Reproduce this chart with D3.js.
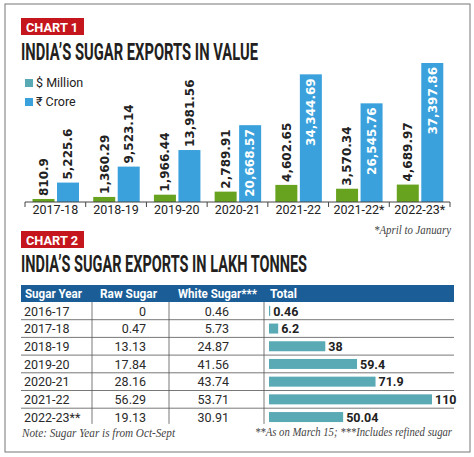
<!DOCTYPE html>
<html lang="en">
<head>
<meta charset="UTF-8">
<title>India's Sugar Exports</title>
<script src="https://d3js.org/d3.v7.min.js"></script>
<style>
    body { margin: 0; background: #fff; }
    svg { display: block; font-family: Roboto, "Liberation Sans", sans-serif; }
    .tag text { fill: #fff; font-weight: 700; font-size: 13px; }
    .title { fill: #231f20; font-weight: 700; font-size: 23px; }
    .legend text { font-size: 12.5px; fill: #222; }
    .val { font-family: "DejaVu Sans", sans-serif; font-weight: 700; font-size: 12px; }
    .xlab { font-size: 12.5px; fill: #222; }
    .note { font-family: "Liberation Serif", serif; font-style: italic; font-size: 12px; fill: #444; }
    .cell { font-size: 12.5px; fill: #2a2a2a; }
    .hdr { font-weight: 700; font-size: 12.5px; fill: #fff; }
    .tot { font-weight: 700; font-size: 12.5px; fill: #222; }
</style>
</head>
<body>
<svg id="chart" width="474" height="457"></svg>
<script>
    // Chart 1: exports in value
    const valueYears = ["2017-18", "2018-19", "2019-20", "2020-21", "2021-22", "2021-22*", "2022-23*"];
    const usdMillion = [810.9, 1360.29, 1966.44, 2789.91, 4602.65, 3570.34, 4689.97];
    const inrCrore = [5225.6, 9523.14, 13981.56, 20668.57, 34344.69, 26545.76, 37397.86];

    // Chart 2: exports in lakh tonnes
    const sugarYears = ["2016-17", "2017-18", "2018-19", "2019-20", "2020-21", "2021-22", "2022-23**"];
    const rawSugar = [0, 0.47, 13.13, 17.84, 28.16, 56.29, 19.13];
    const whiteSugar = [0.46, 5.73, 24.87, 41.56, 43.74, 53.71, 30.91];
    const totalSugar = [0.46, 6.2, 38, 59.4, 71.9, 110, 50.04];
    const tableHeads = ["Sugar Year", "Raw Sugar", "White Sugar***", "Total"];

    const GREEN = "#67a31f", BLUE = "#3aa1dc", TEAL = "#5aaab6", NAVY = "#1b5e97", RED = "#c4161c";

    const svg = d3.select("#chart");

    // outer frame
    svg.append("rect")
        .attr("x", 5).attr("y", 4).attr("width", 465).attr("height", 448)
        .attr("fill", "none").attr("stroke", "#777").attr("stroke-width", 1);

    function tag(y, label) {
        const g = svg.append("g").attr("class", "tag");
        g.append("rect").attr("x", 21).attr("y", y).attr("width", 63).attr("height", 17).attr("fill", RED);
        g.append("text").attr("x", 26).attr("y", y + 13.5).attr("textLength", 52)
            .attr("lengthAdjust", "spacingAndGlyphs").text(label);
    }

    function title(y, label, len) {
        svg.append("text").attr("class", "title")
            .attr("x", 21).attr("y", y)
            .attr("textLength", len).attr("lengthAdjust", "spacingAndGlyphs")
            .text(label);
    }

    // ---------- Chart 1 ----------
    tag(18, "CHART 1");
    title(60, "INDIA\u2019S SUGAR EXPORTS IN VALUE", 237);

    const legend = svg.append("g").attr("class", "legend");
    [["$ Million", TEAL], ["\u20b9 Crore", BLUE]].forEach((d, i) => {
        legend.append("rect").attr("x", 25).attr("y", 79 + i * 19).attr("width", 8).attr("height", 8).attr("fill", d[1]);
        legend.append("text").attr("x", 36).attr("y", 87 + i * 19).text(d[0]);
    });

    const axisY = 202;
    const x = d3.scaleBand().domain(valueYears).range([25, 450]);
    const y = d3.scaleLinear().domain([0, d3.max(inrCrore)]).range([axisY, 63]);
    const fmt = d3.format(",");

    const groups = svg.append("g").selectAll("g")
        .data(valueYears.map((yr, i) => ({ yr, usd: usdMillion[i], inr: inrCrore[i] })))
        .join("g")
        .attr("transform", d => `translate(${x(d.yr)},0)`);

    const bars = [
        { key: "usd", dx: 7.5, color: GREEN },
        { key: "inr", dx: 32, color: BLUE }
    ];
    const bw = 22;

    bars.forEach(b => {
        groups.append("rect")
            .attr("x", b.dx).attr("width", bw)
            .attr("y", d => y(d[b.key]))
            .attr("height", d => axisY - y(d[b.key]))
            .attr("fill", b.color);

        groups.append("text")
            .attr("class", "val")
            .attr("transform", d => {
                const h = axisY - y(d[b.key]);
                const ty = h > 70 ? y(d[b.key]) + 4 : y(d[b.key]) - 3;
                return `translate(${b.dx + bw / 2},${ty}) rotate(-90)`;
            })
            .attr("dy", "0.36em")
            .attr("text-anchor", d => (axisY - y(d[b.key]) > 70 ? "end" : "start"))
            .attr("fill", d => (axisY - y(d[b.key]) > 70 ? "#fff" : "#222"))
            .text(d => fmt(d[b.key]));
    });

    // x axis: baseline, boundary ticks, centred labels
    const ax = svg.append("g");
    ax.append("line").attr("x1", 25).attr("x2", 450).attr("y1", axisY).attr("y2", axisY)
        .attr("stroke", "#444").attr("stroke-width", 1);
    ax.selectAll(".tk").data(valueYears.concat(["end"]))
        .join("line")
        .attr("x1", (d, i) => 25 + i * x.bandwidth()).attr("x2", (d, i) => 25 + i * x.bandwidth())
        .attr("y1", axisY).attr("y2", axisY + 5)
        .attr("stroke", "#444");
    ax.selectAll(".xlab").data(valueYears)
        .join("text").attr("class", "xlab")
        .attr("x", d => x(d) + x.bandwidth() / 2).attr("y", 214)
        .attr("text-anchor", "middle")
        .text(d => d);

    svg.append("text").attr("class", "note")
        .attr("x", 451).attr("y", 234).attr("text-anchor", "end")
        .attr("textLength", 77).attr("lengthAdjust", "spacingAndGlyphs")
        .text("*April to January");

    // ---------- Chart 2 ----------
    tag(231, "CHART 2");
    title(272, "INDIA\u2019S SUGAR EXPORTS IN LAKH TONNES", 286);

    const tLeft = 21, tRight = 454, headTop = 285, headH = 17, rowH = 17.7;
    const colDiv = [92, 169, 264];
    const rows = d3.scaleBand().domain(sugarYears).range([headTop + headH, headTop + headH + rowH * sugarYears.length]);

    svg.append("rect").attr("x", tLeft).attr("y", headTop).attr("width", tRight - tLeft).attr("height", headH).attr("fill", NAVY);
    const headPos = [
        { x: 25, anchor: "start", len: 57 },
        { x: 100, anchor: "start", len: 57 },
        { x: 178, anchor: "start", len: 79 },
        { x: 270, anchor: "start", len: 27 }
    ];
    tableHeads.forEach((h, i) => {
        svg.append("text").attr("class", "hdr")
            .attr("x", headPos[i].x).attr("y", headTop + 13)
            .attr("textLength", headPos[i].len).attr("lengthAdjust", "spacingAndGlyphs")
            .text(h);
    });

    // row separators
    svg.append("g").selectAll("line").data(sugarYears.slice(1))
        .join("line")
        .attr("x1", tLeft).attr("x2", tRight)
        .attr("y1", d => rows(d)).attr("y2", d => rows(d))
        .attr("stroke", "#555").attr("stroke-width", 0.8);

    // column separators
    svg.append("g").selectAll("line").data(colDiv)
        .join("line")
        .attr("x1", d => d).attr("x2", d => d)
        .attr("y1", headTop + headH).attr("y2", rows.range()[1] - 2)
        .attr("stroke", "#555").attr("stroke-width", 0.8);

    const tbl = svg.append("g");
    sugarYears.forEach((yr, i) => {
        const by = rows(yr) + 13.5;
        tbl.append("text").attr("class", "cell").attr("x", 24).attr("y", by).text(yr);
        tbl.append("text").attr("class", "cell").attr("x", 146).attr("y", by).attr("text-anchor", "end").text(rawSugar[i]);
        tbl.append("text").attr("class", "cell").attr("x", 229).attr("y", by).attr("text-anchor", "end").text(whiteSugar[i]);
    });

    const tx = d3.scaleLinear().domain([0, d3.max(totalSugar)]).range([269, 432]);
    tbl.selectAll(".tbar").data(totalSugar)
        .join("rect")
        .attr("x", tx(0))
        .attr("y", (d, i) => rows(sugarYears[i]) + (rowH - 10) / 2)
        .attr("width", d => Math.max(1.2, tx(d) - tx(0)))
        .attr("height", 10)
        .attr("fill", TEAL);
    tbl.selectAll(".tot").data(totalSugar)
        .join("text").attr("class", "tot")
        .attr("x", d => Math.max(tx(0) + 1.2, tx(d)) + 3)
        .attr("y", (d, i) => rows(sugarYears[i]) + 13.5)
        .text(d => d);

    svg.append("text").attr("class", "note")
        .attr("x", 22).attr("y", 437)
        .attr("textLength", 153).attr("lengthAdjust", "spacingAndGlyphs")
        .text("Note: Sugar Year is from Oct-Sept");
    svg.append("text").attr("class", "note")
        .attr("x", 452).attr("y", 436).attr("text-anchor", "end")
        .attr("textLength", 197).attr("lengthAdjust", "spacingAndGlyphs")
        .text("**As on March 15; ***Includes refined sugar");
</script>
</body>
</html>
